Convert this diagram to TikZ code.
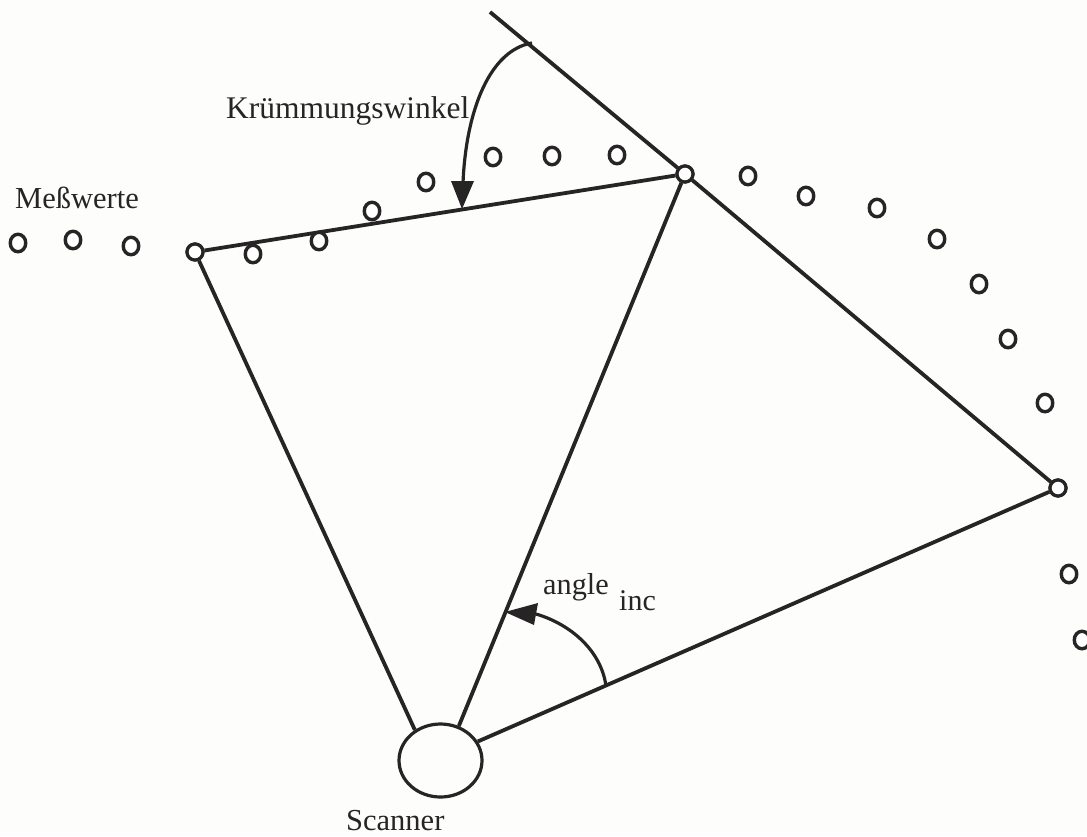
\documentclass[tikz,border=0pt]{standalone}
\usepackage{fontspec}
\setmainfont{Liberation Serif}
\usetikzlibrary{shapes.geometric}
\definecolor{ink}{HTML}{262424}
\definecolor{paper}{HTML}{FDFDFC}
\tikzset{
  x=1pt,y=-1pt,
  lineb/.style={draw=ink,line width=3.8pt},
  thinb/.style={draw=ink,line width=3.2pt},
  pt/.style={ellipse,draw=ink,line width=3.4pt,fill=white,minimum width=15.5pt,minimum height=17.5pt,inner sep=0pt},
  joint/.style={circle,draw=ink,line width=3.2pt,fill=white,minimum size=16pt,inner sep=0pt},
  lab/.style={inner sep=0pt,text=ink,font=\fontsize{#1}{#1}\selectfont,anchor=base west},
  lab/.default=30pt
}
\begin{document}
\begin{tikzpicture}
\useasboundingbox[fill=paper] (0,0) rectangle (1087,836);
\coordinate (tanEnd) at (490,12);
\coordinate (arcA) at (532,43);
\coordinate (arcB) at (463,183);
\coordinate (tipA) at (462,209);
\coordinate (incA) at (606,686);
\coordinate (incB) at (536,614);
\coordinate (tipB) at (505,612);
\node[joint] (j1) at (195,252) {};
\node[joint] (j2) at (685,174) {};
\node[joint] (j3) at (1058,488) {};
\node[ellipse,draw=ink,line width=3.2pt,minimum width=83pt,minimum height=73pt,inner sep=0pt] (scan) at (440.5,760.5) {};
\draw[lineb] (scan.130) -- (j1);
\draw[lineb] (scan.62) -- (j2);
\draw[lineb] (scan.27) -- (j3);
\draw[lineb] (j1) -- (j2);
\draw[lineb] (tanEnd) -- (j2) -- (j3);
\node[joint] at (j1) {};
\node[joint] at (j2) {};
\node[joint] at (j3) {};
\draw[thinb] (arcA) .. controls (490,50) and (466,110) .. (arcB);
\fill[ink] (451,181) -- (474,181) -- (tipA) -- cycle;
\draw[thinb] (incA) .. controls (601,650) and (570,624) .. (incB);
\fill[ink] (tipB) -- (538,603) -- (534,625) -- cycle;
\foreach \n/\p in {a/{18,243},b/{73,240},c/{131,246},d/{253,254},e/{319,241},f/{372,211},g/{426,182},h/{493,157},i/{552,156},k/{617,155},l/{748,176},m/{806,196},o/{877,208},q/{937,239},r/{979,284},s/{1008,339},t/{1045,403},u/{1069,574},v/{1082,640}}
  \node[pt] (p\n) at (\p) {};
\node[lab=31.5pt] (l1) at (226,118.5) {Krümmungswinkel};
\node[lab=30.5pt] (l2) at (15,208.5) {Meßwerte};
\node[lab=30.5pt] (l3) at (346,830) {Scanner};
\node[lab=30.3pt] (l4) at (543,594) {angle};
\node[lab=30pt] (l5) at (619,610) {inc};
\end{tikzpicture}
\end{document}
